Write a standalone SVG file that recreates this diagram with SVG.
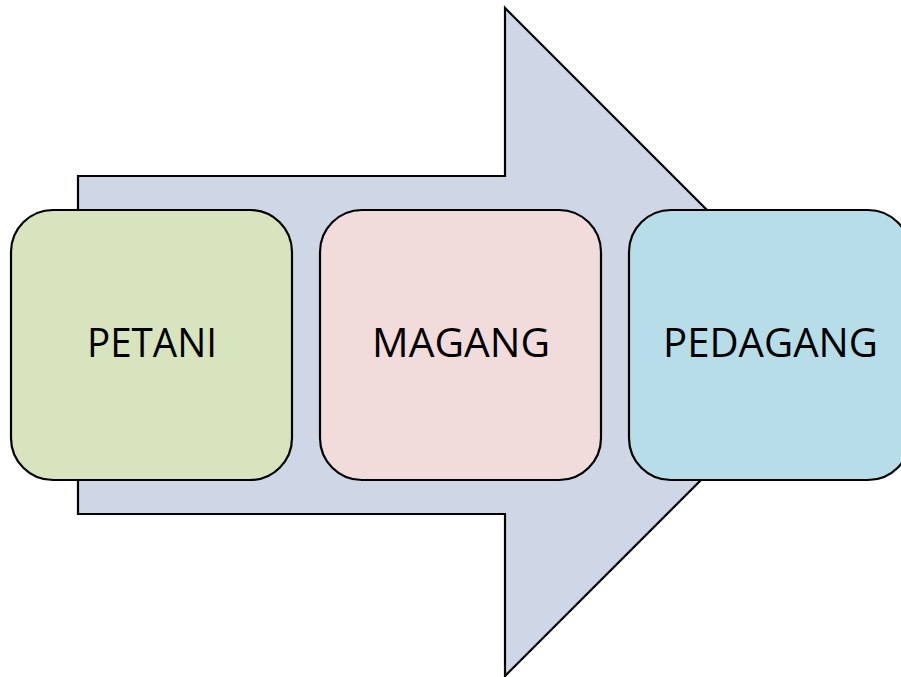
<svg xmlns="http://www.w3.org/2000/svg" width="901" height="677" viewBox="0 0 901 677">
  <style>
    .box { stroke: #000; stroke-width: 2.2; }
    .lbl { font-family: "Open Sans", "Noto Sans", "Liberation Sans", sans-serif; font-size: 40px; fill: #000; text-anchor: middle; }
  </style>
  <rect width="901" height="677" fill="#fff"/>
  <g id="arrow">
    <polygon points="78,176 505,176 505,8 839,342 505,676 505,514 78,514" fill="#cfd6e6" stroke="#000" stroke-width="2.2" stroke-linejoin="miter"/>
  </g>
  <g id="connectors"></g>
  <g id="petani">
    <rect class="box" x="11" y="210" width="281" height="270" rx="42" ry="42" fill="#d7e4bd"/>
    <text class="lbl" x="152" y="357" textLength="130" lengthAdjust="spacingAndGlyphs">PETANI</text>
  </g>
  <g id="magang">
    <rect class="box" x="320" y="210" width="281" height="270" rx="42" ry="42" fill="#f2dcdb"/>
    <text class="lbl" x="461" y="357" textLength="178" lengthAdjust="spacingAndGlyphs">MAGANG</text>
  </g>
  <g id="pedagang">
    <rect class="box" x="629" y="210" width="281" height="270" rx="42" ry="42" fill="#b7dee8"/>
    <text class="lbl" x="770.5" y="357" textLength="215" lengthAdjust="spacingAndGlyphs">PEDAGANG</text>
  </g>
</svg>
